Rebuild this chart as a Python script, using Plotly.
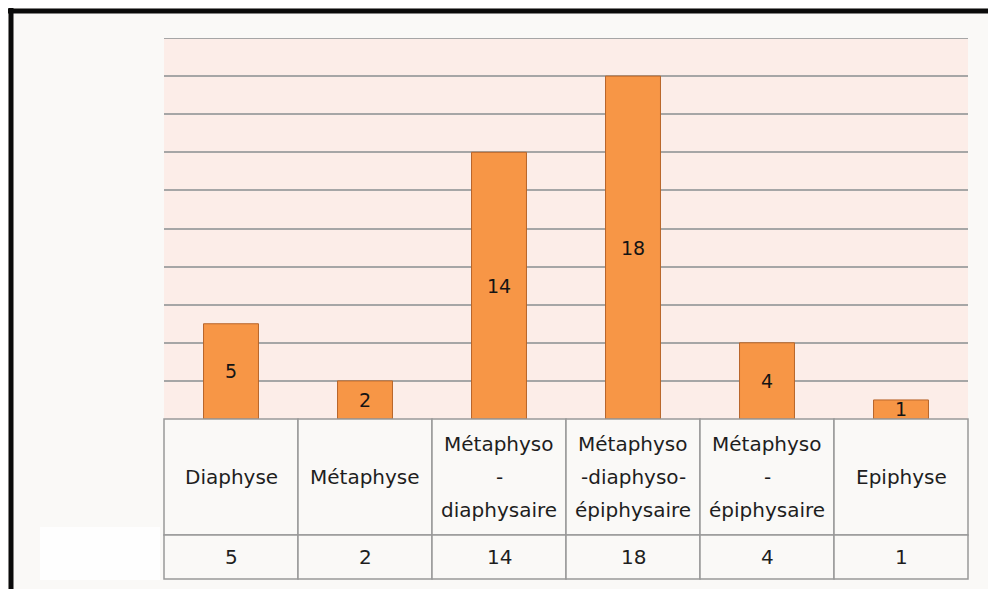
import plotly.graph_objects as go

# Localisation des lésions : effectifs par segment osseux
categories = [
    "Diaphyse",
    "Métaphyse",
    "Métaphyso\n-\ndiaphysaire",
    "Métaphyso\n-diaphyso-\népiphysaire",
    "Métaphyso\n-\népiphysaire",
    "Epiphyse",
]
values = [5, 2, 14, 18, 4, 1]
y_max = 20
y_step = 2

W, H = 988, 589
ML, MR, MT, MB = 164, 20, 38, 170
PW, PH = W - ML - MR, H - MT - MB

FONT = "DejaVu Sans"
TXT = "#1e1e1e"
GRID = "#a6a6a6"
CELL_LINE = "#999999"
PAPER = "#faf9f7"


def px_x(px):
    """Pixel column -> paper x."""
    return (px - ML) / PW


def px_y(py):
    """Pixel row -> paper y."""
    return (H - MB - py) / PH


n = len(categories)
x_idx = list(range(n))

fig = go.Figure()
fig.add_trace(go.Bar(
    x=x_idx,
    y=values,
    width=0.41,
    marker=dict(color="#f79646", line=dict(color="#b8652a", width=1)),
    text=[str(v) for v in values],
    textposition="inside",
    insidetextanchor="middle",
    textangle=0,
    constraintext="none",
    textfont=dict(family=FONT, size=19, color="#141414"),
    cliponaxis=True,
    hoverinfo="skip",
))

shapes = []
annotations = []

# top gridline at the end of the value range
shapes.append(dict(type="line", xref="paper", yref="y", x0=0, x1=1, y0=y_max, y1=y_max,
                   line=dict(color=GRID, width=2), layer="below"))

# frame: white margin strips and black top/left border
shapes.append(dict(type="rect", xref="paper", yref="paper", x0=px_x(0), x1=px_x(W),
                   y0=px_y(0), y1=px_y(8), fillcolor="white", line=dict(width=0), layer="below"))
shapes.append(dict(type="rect", xref="paper", yref="paper", x0=px_x(0), x1=px_x(8),
                   y0=px_y(0), y1=px_y(H), fillcolor="white", line=dict(width=0), layer="below"))
shapes.append(dict(type="rect", xref="paper", yref="paper", x0=px_x(8), x1=px_x(W),
                   y0=px_y(8.5), y1=px_y(13.5), fillcolor="#0a0a0a", line=dict(width=0)))
shapes.append(dict(type="rect", xref="paper", yref="paper", x0=px_x(8.5), x1=px_x(13.5),
                   y0=px_y(8), y1=px_y(H), fillcolor="#0a0a0a", line=dict(width=0)))
# blank area where the legend key column sat
shapes.append(dict(type="rect", xref="paper", yref="paper", x0=px_x(40), x1=px_x(160),
                   y0=px_y(527), y1=px_y(580), fillcolor="#fefefe", line=dict(width=0)))

# data table under the bars
header_top, header_bot, row_bot = 419, 535, 579
line_gap = 33
for i, (cat, v) in enumerate(zip(categories, values)):
    x0, x1 = i / n, (i + 1) / n
    for top, bot in ((header_top, header_bot), (header_bot, row_bot)):
        shapes.append(dict(type="rect", xref="paper", yref="paper", x0=x0, x1=x1,
                           y0=px_y(bot), y1=px_y(top), fillcolor=PAPER,
                           line=dict(color=CELL_LINE, width=1.5), layer="above"))
    lines = cat.split("\n")
    mid = (header_top + header_bot) / 2
    for k, ln in enumerate(lines):
        cy = mid + (k - (len(lines) - 1) / 2) * line_gap
        annotations.append(dict(x=i, xref="x", y=px_y(cy), yref="paper", text=ln,
                                showarrow=False, xanchor="center", yanchor="middle",
                                font=dict(family=FONT, size=20, color=TXT)))
    annotations.append(dict(x=i, xref="x", y=px_y((header_bot + row_bot) / 2), yref="paper",
                            text=str(v), showarrow=False, xanchor="center", yanchor="middle",
                            font=dict(family=FONT, size=20, color=TXT)))

fig.update_layout(
    width=W, height=H,
    margin=dict(l=ML, r=MR, t=MT, b=MB, pad=0),
    paper_bgcolor=PAPER,
    plot_bgcolor="#fcede8",
    showlegend=False,
    shapes=shapes,
    annotations=annotations,
    xaxis=dict(range=[-0.5, n - 0.5], showticklabels=False, showgrid=False,
               zeroline=False, showline=False, ticks="", fixedrange=True),
    yaxis=dict(range=[0, y_max], dtick=y_step, showticklabels=False, showgrid=True,
               gridcolor=GRID, gridwidth=2, zeroline=False, showline=False,
               ticks="", fixedrange=True),
)

fig.write_html("out.html")
